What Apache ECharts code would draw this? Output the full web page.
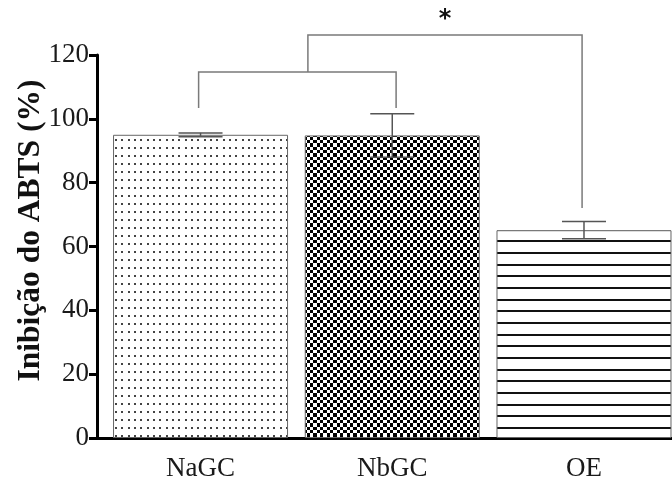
<!DOCTYPE html>
<html>
<head>
<meta charset="utf-8">
<script src="https://cdn.jsdelivr.net/npm/echarts@6/dist/echarts.min.js"></script>
<style>
  html, body { margin: 0; padding: 0; background: #fff; }
  #chart { width: 672px; height: 481px; }
</style>
</head>
<body>
<div id="chart"></div>
<script>
// ABTS radical inhibition (%) per sample, mean and error
const categories = ['NaGC', 'NbGC', 'OE'];
const means = [95.0, 94.8, 65.1];
const errors = [0.6, 6.8, 2.7];
const yTickValues = [0, 20, 40, 60, 80, 100, 120];

// significance brackets, in data units (x = category index, y = % inhibition)
const innerBracket = [[-0.01, 103.4], [-0.01, 114.7], [1.02, 114.7], [1.02, 103.4]];
const outerBracket = [[0.56, 114.7], [0.56, 126.3], [1.99, 126.3], [1.99, 72.1]];
const starLabel = { x: 1.275, y: 131.0, text: '*' };

// fill tiles for the three bars
function makeTile(w, h, draw) {
  const c = document.createElement('canvas');
  c.width = w; c.height = h;
  const ctx = c.getContext('2d');
  ctx.fillStyle = '#fff';
  ctx.fillRect(0, 0, w, h);
  draw(ctx);
  return c;
}
const dotTile = makeTile(19, 8, ctx => {
  ctx.fillStyle = '#444';
  [1, 7, 14].forEach(x => ctx.fillRect(x, 3, 2, 2));
});
const checkEdges = [0, 3, 7, 10, 13, 17, 20];
const checkerTile = makeTile(20, 20, ctx => {
  ctx.fillStyle = '#000';
  for (let i = 0; i < 6; i++) {
    for (let j = 0; j < 6; j++) {
      if ((i + j) % 2 === 0) {
        ctx.fillRect(checkEdges[i], checkEdges[j],
          checkEdges[i + 1] - checkEdges[i], checkEdges[j + 1] - checkEdges[j]);
      }
    }
  }
});
const stripeTile = makeTile(4, 35, ctx => {
  ctx.fillStyle = '#111';
  [7, 19, 30].forEach(y => ctx.fillRect(0, y, 4, 2));
});
const fills = [dotTile, checkerTile, stripeTile].map(img => ({ image: img, repeat: 'repeat' }));

const serif = '"Liberation Serif", "Times New Roman", serif';
const chart = echarts.init(document.getElementById('chart'), null, { renderer: 'canvas' });

chart.setOption({
  animation: false,
  backgroundColor: '#fff',
  grid: { left: 97, right: 0, top: 55, bottom: 43, containLabel: false, outerBoundsMode: 'none' },
  xAxis: {
    type: 'value',
    min: -0.54,
    max: 2.459,
    axisLine: { show: true, onZero: false, lineStyle: { color: '#000', width: 3 } },
    axisTick: { show: false },
    splitLine: { show: false },
    axisLabel: {
      customValues: categories.map((_, i) => i),
      formatter: v => categories[Math.round(v)],
      fontFamily: serif,
      fontSize: 27,
      color: '#1a1a1a',
      margin: 17
    }
  },
  yAxis: {
    type: 'value',
    min: 0,
    max: yTickValues[yTickValues.length - 1],
    interval: yTickValues[1] - yTickValues[0],
    axisLine: { show: true, onZero: false, lineStyle: { color: '#000', width: 3 } },
    axisTick: { show: true, length: 8, lineStyle: { color: '#000', width: 3 } },
    splitLine: { show: false },
    axisLabel: { fontFamily: serif, fontSize: 27, color: '#1a1a1a', margin: 8 },
    name: 'Inibição do ABTS (%)',
    nameLocation: 'middle',
    nameGap: 50,
    nameMoveOverlap: false,
    nameTextStyle: {
      fontFamily: serif, fontSize: 31.5, fontWeight: 'bold', color: '#111',
      padding: [0, 0, 0, 32]
    }
  },
  series: [
    {
      type: 'bar',
      barWidth: 175,
      data: means.map((v, i) => ({
        value: [i, v],
        itemStyle: { color: fills[i] }
      })),
      itemStyle: { borderColor: '#666', borderWidth: 1 },
      z: 2
    },
    {
      // error bars with caps
      type: 'custom',
      z: 3,
      data: means.map((m, i) => [i, m, errors[i]]),
      encode: { x: 0, y: 1 },
      renderItem(params, api) {
        const i = api.value(0), m = api.value(1), e = api.value(2);
        const hi = api.coord([i, m + e]);
        const lo = api.coord([i, m - e]);
        const half = 22;
        const st = { stroke: '#555', lineWidth: 1.5 };
        return {
          type: 'group',
          children: [
            { type: 'line', shape: { x1: hi[0], y1: hi[1], x2: lo[0], y2: lo[1] }, style: st },
            { type: 'line', shape: { x1: hi[0] - half, y1: hi[1], x2: hi[0] + half, y2: hi[1] }, style: st },
            { type: 'line', shape: { x1: lo[0] - half, y1: lo[1], x2: lo[0] + half, y2: lo[1] }, style: st }
          ]
        };
      }
    },
    {
      // significance brackets
      type: 'custom',
      z: 4,
      clip: false,
      data: [innerBracket, outerBracket].map((b, k) => [b[0][0], b[1][1], k]),
      encode: { x: 0, y: 1 },
      renderItem(params, api) {
        const pts = [innerBracket, outerBracket][params.dataIndex].map(p => api.coord(p));
        return {
          type: 'polyline',
          shape: { points: pts },
          style: { stroke: '#7a7a7a', lineWidth: 1.5, fill: null }
        };
      }
    },
    {
      type: 'custom',
      z: 5,
      clip: false,
      data: [[starLabel.x, starLabel.y]],
      encode: { x: 0, y: 1 },
      renderItem(params, api) {
        const p = api.coord([api.value(0), api.value(1)]);
        return {
          type: 'text',
          x: p[0], y: p[1],
          style: {
            text: starLabel.text,
            font: 'bold 24px "DejaVu Sans", sans-serif',
            fill: '#111',
            align: 'center',
            verticalAlign: 'middle'
          }
        };
      }
    }
  ]
});
</script>
</body>
</html>
